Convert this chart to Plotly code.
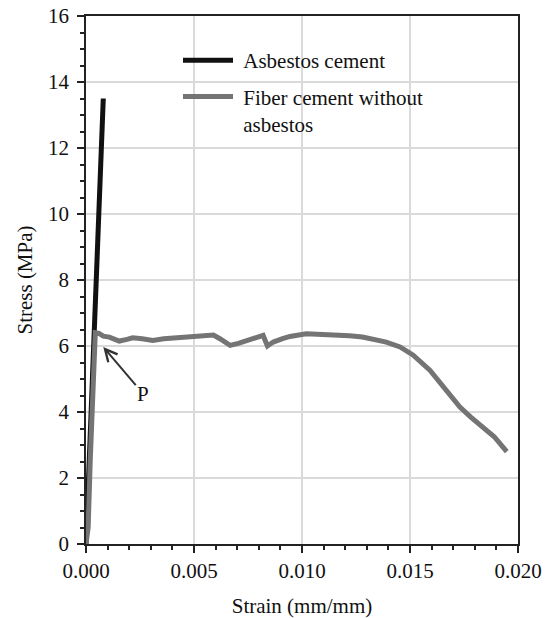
import plotly.graph_objects as go

# ---- data ----
asb_strain = [0.0, 0.0002, 0.0004, 0.0006, 0.0008]
asb_stress = [0.0, 3.35, 6.7, 10.1, 13.5]

fib_strain = [0.0, 0.0001, 0.0002, 0.00026, 0.00037, 0.00043, 0.0006, 0.0008, 0.00108,
              0.0013, 0.00154, 0.0019, 0.00216, 0.0026, 0.00309, 0.0036, 0.00417,
              0.005, 0.0057, 0.0059, 0.0062, 0.00667, 0.00705, 0.0076, 0.0082,
              0.0084, 0.00867, 0.0091, 0.00944, 0.0102, 0.0113, 0.0122, 0.0128,
              0.0134, 0.0139, 0.01454, 0.01515, 0.01593, 0.0167, 0.01731, 0.0178,
              0.01824, 0.0189, 0.01948]
fib_stress = [0.0, 0.5, 2.6, 3.85, 5.8, 6.4, 6.38, 6.3, 6.27,
              6.22, 6.15, 6.2, 6.25, 6.22, 6.17, 6.22, 6.24,
              6.3, 6.33, 6.33, 6.22, 6.02, 6.08, 6.2, 6.32,
              6.0, 6.12, 6.22, 6.29, 6.37, 6.35, 6.31, 6.27,
              6.2, 6.12, 5.97, 5.72, 5.26, 4.66, 4.15, 3.85,
              3.62, 3.25, 2.8]

names = ["&nbsp;Asbestos cement", "&nbsp;Fiber cement without<br>&nbsp;asbestos"]
x_ticks = [0.0, 0.005, 0.010, 0.015, 0.020]
x_ticklabels = ["0.000", "0.005", "0.010", "0.015", "0.020"]
y_ticks = [0, 2, 4, 6, 8, 10, 12, 14, 16]

# annotation "P" (arrow head / label position in data units)
p_head = (0.0008, 5.97)
p_label = (0.00265, 4.55)

FONT = "Liberation Serif, Times New Roman, serif"
FS = 21

fig = go.Figure()
fig.add_trace(go.Scatter(x=asb_strain, y=asb_stress, mode="lines", name=names[0],
                         legendgroup="a", line=dict(color="#111111", width=5)))
fig.add_trace(go.Scatter(x=fib_strain, y=fib_stress, mode="lines", name=names[1],
                         legendgroup="b", line=dict(color="#747474", width=5)))

fig.add_annotation(x=p_head[0], y=p_head[1], ax=p_label[0], ay=p_label[1],
                   axref="x", ayref="y", xref="x", yref="y",
                   text="P", showarrow=True, arrowhead=5, arrowsize=1.2,
                   arrowwidth=2, arrowcolor="#333333",
                   font=dict(family=FONT, size=FS, color="#111111"))

# white patch behind legend text (gridlines hidden there)
fig.add_shape(type="rect", xref="paper", yref="paper",
              x0=(237 - 86) / 432, x1=(430 - 86) / 432,
              y0=(543.5 - 135) / 527.5, y1=(543.5 - 46) / 527.5,
              fillcolor="white", line=dict(width=0), layer="between")

axis_common = dict(
    showline=True, linecolor="#222222", linewidth=1.5, mirror=True,
    ticks="outside", ticklen=7, tickwidth=1.5, tickcolor="#222222",
    showgrid=True, gridcolor="#dadada", gridwidth=1.5, zeroline=False,
    automargin=False,
    tickfont=dict(family=FONT, size=FS, color="#111111"),
)

fig.update_xaxes(**axis_common, range=[0, 0.020], tickvals=x_ticks, ticktext=x_ticklabels,
                 minor=dict(dtick=0.001, ticks="outside", ticklen=4, tickwidth=1.5,
                            tickcolor="#222222", showgrid=False),
                 title=dict(text="Strain (mm/mm)", font=dict(family=FONT, size=FS, color="#111111"),
                            standoff=17))
fig.update_yaxes(**axis_common, range=[0, 16], tickvals=y_ticks, ticklabelstandoff=4,
                 minor=dict(dtick=0.5, ticks="outside", ticklen=4, tickwidth=1.5,
                            tickcolor="#222222", showgrid=False),
                 title=dict(text="Stress (MPa)", font=dict(family=FONT, size=FS, color="#111111"),
                            standoff=10))

fig.update_layout(
    width=552, height=618,
    margin=dict(l=86, r=34, t=16, b=74),
    plot_bgcolor="white", paper_bgcolor="white",
    showlegend=True,
    legend=dict(x=(178 - 86) / 432, y=(543.5 - 40) / 527.5, xanchor="left", yanchor="top",
                bgcolor="rgba(0,0,0,0)", borderwidth=0, itemwidth=50,
                font=dict(family=FONT, size=FS, color="#111111"),
                valign="top", traceorder="grouped", tracegroupgap=6),
)

fig.write_html("out.html")
